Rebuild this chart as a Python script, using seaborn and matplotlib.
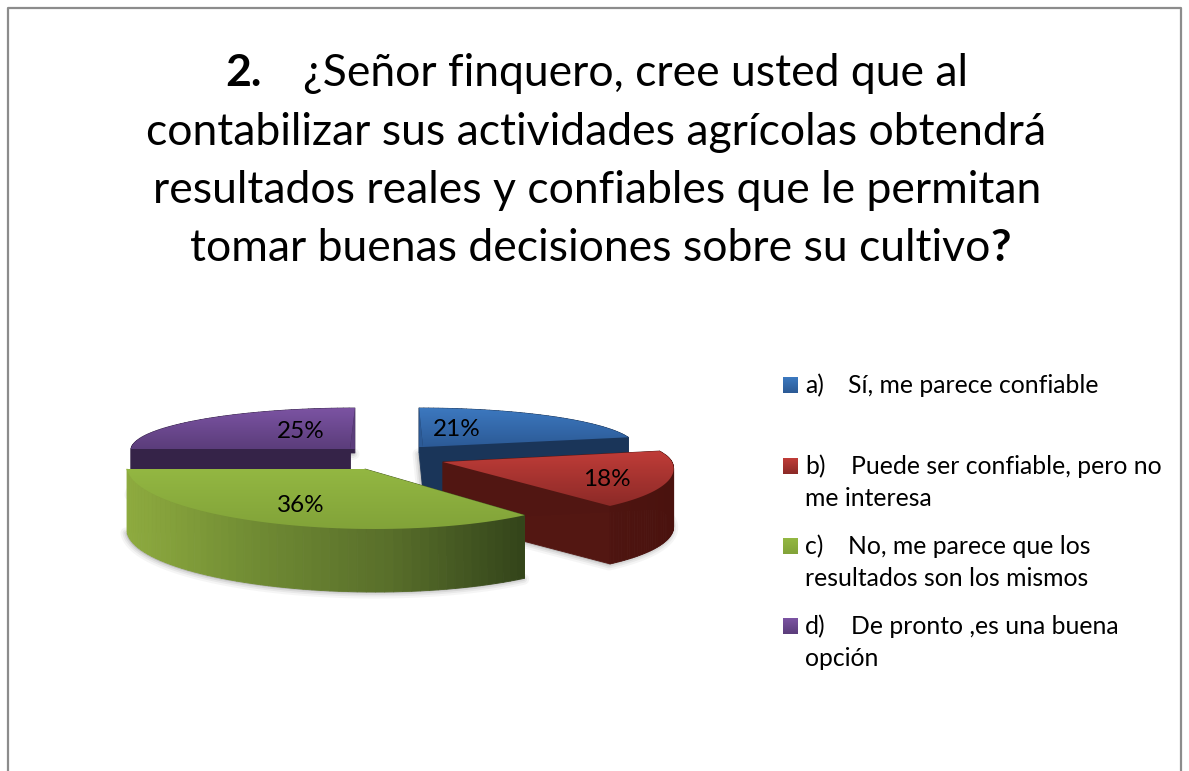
import numpy as np
import matplotlib
matplotlib.use('Agg')
import matplotlib.pyplot as plt
from matplotlib.collections import PolyCollection
from matplotlib.patches import Polygon
import seaborn as sns

# Datos de la encuesta
valores = [21, 18, 36, 25]
etiquetas = ['21%', '18%', '36%', '25%']
letras = ['a)', 'b)', 'c)', 'd)']
leyenda_1 = ['Sí, me parece confiable', 'Puede ser confiable, pero no',
             'No, me parece que los', 'De pronto ,es una buena']
leyenda_2 = ['', 'me interesa', 'resultados son los mismos', 'opción']
titulo = ['¿Señor finquero, cree usted que al',
          'contabilizar sus actividades agrícolas obtendrá',
          'resultados reales y confiables que le permitan',
          'tomar buenas decisiones sobre su cultivo']

sns.set_theme(style='white')
plt.rcParams['font.family'] = ['Lato', 'DejaVu Sans']

# Colores: superficie (arriba -> abajo) y pared (izquierda -> derecha)
sup = [['#3c78bf', '#2c5a96'], ['#bf3c38', '#8c2a27'],
       ['#93b742', '#82a339'], ['#7b53a2', '#5b3d7b']]
pared = [['#1a3559', '#1a3559'], ['#581a15', '#4a120e'],
         ['#8eab3f', '#6f8a33', '#586e2a', '#33441a'], ['#352348', '#352348']]
# centro x, centro y, radio x, radio y atras, radio y adelante, sesgo, profundidad
geom = [(423, 447, 213, 39, 39, 0.10, 45),
        (443, 462, 229, 44, 57, 0.48, 58),
        (365, 469, 238, 60, 60, 0.17, 63),
        (350, 449, 219, 41, 41, -0.12, 45)]

fig = plt.figure(figsize=(11.89, 7.71), dpi=100)

# el pie calcula los angulos de cada porcion
aux = fig.add_axes([0, 0, 0.01, 0.01])
wedges, _ = aux.pie(valores, startangle=90, counterclock=False)
angulos = [(w.theta1, w.theta2) for w in wedges]
aux.set_visible(False)

ax = fig.add_axes([0, 0, 1, 1])
ax.set_xlim(0, 1189)
ax.set_ylim(771, 0)
ax.axis('off')
ax.autoscale(False)


def contorno(ang, g):
    cx, cy, rx, ry_b, ry_f, sesgo, _ = g
    t = np.radians(np.linspace(ang[0], ang[1], 60))
    dy = np.sin(t)
    dy = -dy * np.where(dy > 0, ry_b, ry_f)
    x = cx + rx * np.cos(t) + sesgo * dy
    y = cy + dy
    return np.vstack([[cx, cy], np.column_stack([x, y])])


def gradiente(pts, colores):
    cmap = sns.blend_palette(colores, as_cmap=True)
    x0, x1, y0, y1 = pts[:, 0].min(), pts[:, 0].max(), pts[:, 1].min(), pts[:, 1].max()
    g = np.linspace(0, 1, 64)[:, None]
    im = ax.imshow(g, extent=(x0, x1, y1, y0), cmap=cmap, aspect='auto', zorder=2,
                   interpolation='bilinear')
    im.set_clip_path(Polygon(pts, transform=ax.transData))


# de atras hacia adelante
for i in [3, 0, 1, 2]:
    pts = contorno(angulos[i], geom[i])
    prof = geom[i][6]
    base = pts + [0, prof]
    if i == 3:
        base = base[1:]
    for lw, a in [(8, 0.07), (5, 0.10), (2.5, 0.14)]:
        ax.fill(base[:, 0] - 1, base[:, 1] + 1, fc='#777777', ec='#777777', lw=lw, alpha=a,
                zorder=2, joinstyle='round')
    cmap = sns.blend_palette(pared[i], as_cmap=True)
    x0, x1 = pts[:, 0].min(), pts[:, 0].max()
    # primero las caras radiales, luego el arco exterior
    pares = list(zip(pts, np.roll(pts, -1, axis=0)))
    pares = [pares[0], pares[-1]] + pares[1:-1]
    if i == 3:
        pares = pares[1:]
    quads, cols = [], []
    for p, q in pares:
        quads.append([p, q, q + [0, prof], p + [0, prof]])
        cols.append(cmap((0.5 * (p[0] + q[0]) - x0) / (x1 - x0)))
    ax.add_collection(PolyCollection(quads, facecolors=cols, edgecolors=cols, linewidths=0.6, zorder=2))
    # cara interna clara de las porciones de atras
    if i in (0, 3):
        tope = pts[-1] if i == 0 else pts[1]
        ax.fill([pts[0, 0], tope[0], tope[0]], [pts[0, 1], tope[1], pts[0, 1]],
                color=sup[i][1], lw=0, zorder=2)
    gradiente(pts, sup[i])

# etiquetas de datos
pos_etq = [(457, 429), (607, 479), (301, 505), (301, 431)]
for (x, y), e in zip(pos_etq, etiquetas):
    ax.text(x, y, e, ha='center', va='center', fontsize=17.5, color='black', zorder=3)

# titulo
ax.text(225, 86, '2.', fontsize=32, fontweight='bold', color='black')
ax.text(303, 86, titulo[0], fontsize=32, color='black')
ax.text(596, 145, titulo[1], fontsize=32, ha='center', color='black')
ax.text(597, 203, titulo[2], fontsize=32, ha='center', color='black')
ax.text(990, 261, titulo[3], fontsize=32, ha='right', color='black')
ax.text(990, 261, '?', fontsize=32, fontweight='bold', color='black')

# leyenda
y_ley = [385, 466, 546, 626]
x_txt = [848, 851, 848, 851]
for i in range(4):
    y = y_ley[i]
    gris = np.linspace(0, 1, 16)[:, None]
    ax.imshow(gris, extent=(783, 798, y + 8, y - 8), aspect='auto', zorder=2,
              cmap=sns.blend_palette(sup[i], as_cmap=True))
    ax.text(805, y + 8, letras[i], fontsize=17.8, color='black')
    ax.text(x_txt[i], y + 8, leyenda_1[i], fontsize=17.8, color='black')
    if leyenda_2[i]:
        ax.text(805, y + 40, leyenda_2[i], fontsize=17.8, color='black')

# marco de la pagina
ax.plot([8, 8, 1181, 1181], [771, 8, 8, 771], color='#8c8c8c', lw=1.6, zorder=1)

fig.savefig('out.png', dpi=100)
